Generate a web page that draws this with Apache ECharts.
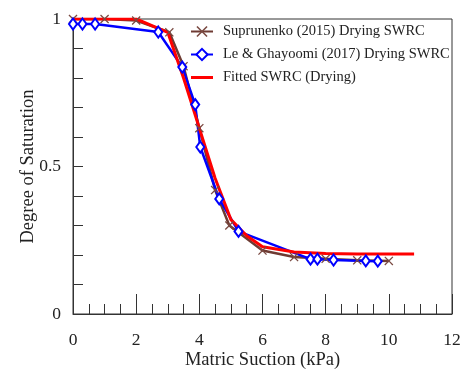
<!DOCTYPE html>
<html lang="en">
<head>
    <meta charset="UTF-8">
    <script src="https://cdn.jsdelivr.net/npm/echarts@6/dist/echarts.min.js"></script>
    <title>SWRC</title>
</head>
<body style="margin:0;">
    <div id="main" style="width:460px;height:369px;"></div>
    <script>
        // Suprunenko (2015) drying points [suction kPa, saturation]
        var suprunenko = [[0, 1], [1, 1], [2, 0.995], [3.05, 0.955], [3.5, 0.84], [4, 0.63], [4.5, 0.42],
            [4.95, 0.30], [6, 0.215], [7, 0.193], [8, 0.187], [9, 0.182], [10, 0.18]];
        // Le & Ghayoomi (2017) drying points
        var leGhayoomi = [[0, 0.983], [0.3, 0.983], [0.7, 0.983], [2.7, 0.956], [3.46, 0.837], [3.87, 0.71],
            [4.03, 0.566], [4.63, 0.39], [5.24, 0.28], [7.52, 0.186], [7.74, 0.186], [8.25, 0.183],
            [9.27, 0.18], [9.65, 0.179]];
        // fitted curve
        var fitted = [[0, 1], [1, 1], [2, 1], [3, 0.955], [3.5, 0.8], [4, 0.63], [4.5, 0.46], [5, 0.32],
            [5.5, 0.265], [6, 0.228], [7, 0.21], [8, 0.205], [9, 0.203], [10, 0.203], [10.8, 0.203]];
        var names = ['Suprunenko (2015) Drying SWRC', 'Le & Ghayoomi (2017) Drying SWRC', 'Fitted SWRC (Drying)'];

        var font = 'Liberation Serif';
        var xMark = 'path://M0,1L1,0L5,4L9,0L10,1L6,5L10,9L9,10L5,6L1,10L0,9L4,5Z';
        // plain line for the legend (tiny corner bits keep the box 22x14)
        var lineIcon = 'path://M0,0L0.01,0L0,0.01Z M0,5.5H22V8.5H0Z M22,14L21.99,14L22,13.99Z';

        var myChart = echarts.init(document.getElementById('main'));
        var option = {
            animation: false,
            textStyle: { fontFamily: font },
            grid: {
                left: 73, right: 8, top: 19, bottom: 55,
                outerBoundsMode: 'none',
                show: true, borderColor: '#333', borderWidth: 1
            },
            legend: {
                orient: 'vertical',
                left: 185, top: 19,
                itemWidth: 22, itemHeight: 14, itemGap: 8,
                textStyle: { fontFamily: font, fontSize: 14.5, color: '#222', padding: [0, 0, 0, 5] },
                data: [{ name: names[0] }, { name: names[1] }, { name: names[2], icon: lineIcon }]
            },
            xAxis: {
                type: 'value',
                min: 0, max: 12, interval: 2,
                name: 'Matric Suction (kPa)',
                nameLocation: 'middle', nameGap: 37, nameMoveOverlap: false,
                nameTextStyle: { fontSize: 18.5, color: '#222', fontFamily: font },
                axisLine: { lineStyle: { color: '#333' } },
                axisTick: { inside: true, length: 20, lineStyle: { color: '#333' } },
                minorTick: { show: true, splitNumber: 4, length: 10, lineStyle: { color: '#333' } },
                axisLabel: { fontSize: 17.5, color: '#222', margin: 17, fontFamily: font },
                splitLine: { show: false }
            },
            yAxis: {
                type: 'value',
                min: 0, max: 1, interval: 0.5,
                name: 'Degree of Saturation',
                nameLocation: 'middle', nameGap: 35, nameMoveOverlap: false,
                nameTextStyle: { fontSize: 18.5, color: '#222', fontFamily: font },
                axisLine: { show: true, lineStyle: { color: '#333' } },
                axisTick: { inside: true, length: 10, lineStyle: { color: '#333' } },
                minorTick: { show: true, splitNumber: 5, length: 10, lineStyle: { color: '#333' } },
                axisLabel: { fontSize: 17.5, color: '#222', margin: 12, fontFamily: font },
                splitLine: { show: false }
            },
            series: [
                {
                    name: names[0], type: 'line', data: suprunenko,
                    symbol: xMark, symbolSize: 9,
                    lineStyle: { color: '#6e3b33', width: 2.5 },
                    itemStyle: { color: '#7a4a42' }
                },
                {
                    name: names[1], type: 'line', data: leGhayoomi,
                    symbol: 'diamond', symbolSize: [8, 11],
                    lineStyle: { color: '#0000ff', width: 2.5 },
                    itemStyle: { color: '#fff', borderColor: '#0000ff', borderWidth: 2 }
                },
                {
                    name: names[2], type: 'line', data: fitted,
                    symbol: 'none',
                    lineStyle: { color: '#ff0000', width: 3 },
                    itemStyle: { color: '#ff0000' }
                }
            ]
        };
        myChart.setOption(option);
    </script>
</body>
</html>
